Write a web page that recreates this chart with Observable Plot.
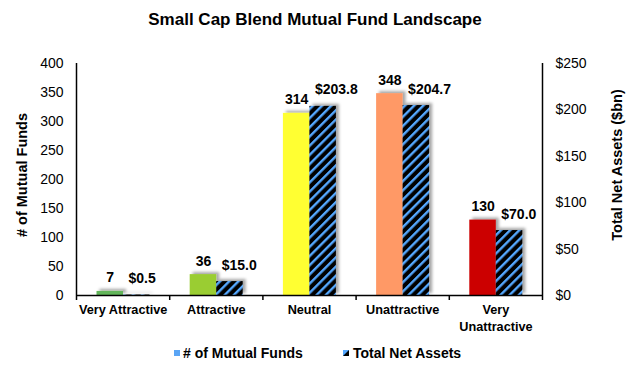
<!DOCTYPE html>
<html><head><meta charset="utf-8">
<script src="https://cdn.jsdelivr.net/npm/d3@7"></script>
<script src="https://cdn.jsdelivr.net/npm/@observablehq/plot@0.6"></script>
<style>
body{margin:0;background:#fff;font-family:"Liberation Sans",Arial,sans-serif;color:#000}
#wrap{width:630px;height:368px;position:relative;overflow:hidden;background:#fff}
#title{position:absolute;top:11px;left:0;width:630px;text-align:center;font-weight:bold;font-size:17px;line-height:17px}
#chart{position:absolute;top:40px;left:0}
.leg{position:absolute;top:346px;font-weight:bold;font-size:14px;line-height:14px;white-space:nowrap}
.sw{position:absolute;top:350px;width:6px;height:6px}
.ytitle{position:absolute;width:240px;height:18px;line-height:18px;text-align:center;font-weight:bold;font-size:14.5px;transform:rotate(-90deg);white-space:nowrap}
</style></head>
<body><div id="wrap">
<div id="title">Small Cap Blend Mutual Fund Landscape</div>
<div id="chart"></div>
<div class="ytitle" style="left:-98px;top:166px" id="yl"></div>
<div class="ytitle" style="left:497px;top:156px" id="yr"></div>
<div class="sw" style="left:174px;background:#5aa5f5"></div>
<div class="leg" style="left:183px" id="leg1"></div>
<svg class="sw" style="left:343px" width="6" height="6"><rect width="6" height="6" fill="#55a8ff"/><polygon points="6,0 6,6 0,6" fill="#000"/></svg>
<div class="leg" style="left:353px" id="leg2"></div>
</div>
<script>
// ---- data ----
const categories = ["Very Attractive", "Attractive", "Neutral", "Unattractive", "Very Unattractive"];
const fundCounts = [7, 36, 314, 348, 130];
const netAssets = [0.5, 15.0, 203.8, 204.7, 70.0];
const countTicks = [0, 50, 100, 150, 200, 250, 300, 350, 400];
const assetTicks = [0, 50, 100, 150, 200, 250];
const seriesNames = ["# of Mutual Funds", "Total Net Assets"];
const axisTitles = ["# of Mutual Funds", "Total Net Assets ($bn)"];
const ratingColors = ["#62b55a", "#9acd32", "#ffff33", "#ff9966", "#cc0000"];

document.getElementById("leg1").textContent = seriesNames[0];
document.getElementById("leg2").textContent = seriesNames[1];
document.getElementById("yl").textContent = axisTitles[0];
document.getElementById("yr").textContent = axisTitles[1];

const rows = categories.map((c, i) => ({category: c, count: fundCounts[i], assets: netAssets[i]}));
const countMax = countTicks[countTicks.length - 1];
const assetMax = assetTicks[assetTicks.length - 1];
const k = countMax / assetMax;

const W = 630, H = 300, mL = 76, mR = 88, mT = 23, mB = 45;
const step = (W - mL - mR) / categories.length;
const barW = 26.5, gap = 20.5;

const chart = Plot.plot({
  width: W, height: H,
  marginLeft: mL, marginRight: mR, marginTop: mT, marginBottom: mB,
  style: {fontFamily: "Liberation Sans, Arial, sans-serif", color: "#000", background: "#fff", overflow: "visible"},
  x: {domain: categories, padding: 0, round: false, axis: null},
  y: {domain: [0, countMax], axis: null},
  color: {domain: categories, range: ratingColors},
  marks: [
    Plot.barY(rows, {x: "category", y: "count", fill: "category",
      insetLeft: gap, insetRight: step - gap - barW}),
    Plot.barY(rows, {x: "category", y: d => d.assets * k, fill: "url(#hatch)",
      insetLeft: gap + barW, insetRight: step - gap - 2 * barW}),
    Plot.ruleY([0], {stroke: "#000", strokeWidth: 1.5}),
    Plot.ruleX([categories[0]], {dx: -step / 2, stroke: "#000", strokeWidth: 1.5}),
    Plot.ruleX([categories[categories.length - 1]], {dx: step / 2, stroke: "#000", strokeWidth: 1.5}),
    Plot.axisX({ticks: categories, tickSize: 5, dx: -step / 2, tickFormat: () => "", label: null, strokeWidth: 1.5}),
    Plot.axisX({ticks: [categories[categories.length - 1]], tickSize: 5, dx: step / 2, tickFormat: () => "", label: null, strokeWidth: 1.5}),
    Plot.axisX({tickSize: 0, tickPadding: 7, fontWeight: "bold", fontSize: 12.7, lineHeight: 1.3, label: null,
      tickFormat: d => d.replace("Very Unattractive", "Very\nUnattractive")}),
    Plot.axisY({anchor: "left", ticks: countTicks, tickSize: 0, tickPadding: 13, fontSize: 14, label: null}),
    Plot.axisY({anchor: "right", ticks: assetTicks.map(v => v * k), tickSize: 0, tickPadding: 13, fontSize: 14,
      label: null, tickFormat: v => "$" + Math.round(v / k)}),
    Plot.text(rows, {x: "category", y: "count", text: d => String(d.count),
      dx: gap + barW / 2 - step / 2, dy: -9, lineAnchor: "bottom", fontWeight: "bold", fontSize: 14}),
    Plot.text(rows, {x: "category", y: d => d.assets * k, text: d => "$" + d.assets.toFixed(1),
      dx: gap + barW - step / 2 + 5, dy: -12, textAnchor: "start", lineAnchor: "bottom", fontWeight: "bold", fontSize: 14})
  ]
});

const defs = document.createElementNS("http://www.w3.org/2000/svg", "defs");
defs.innerHTML = `
  <pattern id="hatch" patternUnits="userSpaceOnUse" width="6.5" height="6.5" patternTransform="rotate(45)">
    <rect width="6.5" height="6.5" fill="#000"/>
    <rect width="2.4" height="6.5" fill="#55a8ff"/>
  </pattern>
  <filter id="shadow" x="-30%" y="-30%" width="160%" height="160%">
    <feDropShadow dx="3" dy="-2" stdDeviation="1.5" flood-color="#000" flood-opacity="0.35"/>
  </filter>`;
chart.insertBefore(defs, chart.firstChild);
chart.querySelectorAll('g[aria-label="bar"]').forEach(g => g.setAttribute("filter", "url(#shadow)"));

document.getElementById("chart").appendChild(chart);
</script>
</body></html>
